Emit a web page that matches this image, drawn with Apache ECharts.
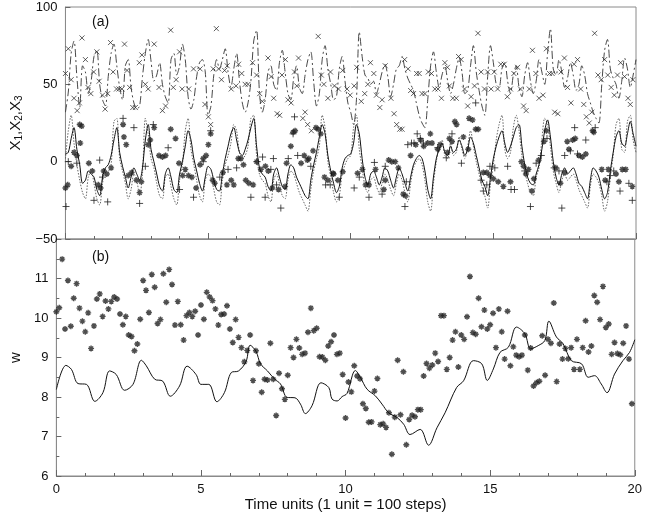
<!DOCTYPE html>
<html>
<head>
<meta charset="utf-8">
<script src="https://cdn.jsdelivr.net/npm/echarts@6/dist/echarts.min.js"></script>
<style>
html,body{margin:0;padding:0;background:#fff;}
#chart{width:645px;height:518px;}
</style>
</head>
<body>
<div id="chart"></div>
<script>
// ---------- DATA ----------
const timeStep = 0.1; // model output every 0.1 time units, t = 0..20

// panel (a): model trajectories (solid X1, dotted X2, dash-dot X3)
const x1Model = [5,6,15,22,8,-2,-14,-12,-6,-8,
 -10,-18,-22,-10,-4,-2,4,14,22,6,
 -3,-10,-17,-10,-4,-8,-12,-4,14,24,
 8,0,-8,-16,-19,-8,-4,-10,-18,-20,
 -8,0,10,20,14,2,-6,-14,-19,-10,
 -3,-5,-12,-18,-19,-8,2,10,18,22,
 14,6,4,8,14,22,28,10,-4,-8,
 -10,-16,-19,-8,-4,-10,-16,-18,-8,-2,
 -4,-10,-14,-18,-22,-24,-12,-2,6,16,
 24,18,4,-6,-14,-20,-16,-4,2,4,
 5,12,24,18,2,-10,-15,-8,-6,-10,
 -15,-10,-4,-6,-12,-17,-10,-4,-8,-14,
 -19,-10,-2,2,4,2,-6,-18,-24,-10,
 2,8,12,6,4,10,6,8,14,10,
 4,8,16,12,4,-4,-12,-16,-22,-10,
 2,10,16,20,12,6,10,16,22,24,
 10,-2,-10,-14,-15,-8,-2,8,20,27,
 16,0,-10,-15,-8,-4,-8,-6,-4,-8,
 -14,-16,-20,-24,-12,-4,-6,-10,-18,-24,
 -20,-6,6,16,20,12,10,18,26,18,
 10];
const x2Model = [2,20,30,12,-2,-12,-20,-24,-10,-6,
 -14,-24,-28,-14,-6,-6,-2,26,28,2,
 -6,-14,-24,-18,-8,-12,-22,-8,28,18,
 2,-4,-14,-22,-24,-10,-8,-16,-24,-28,
 -12,-2,20,28,8,-2,-12,-22,-26,-12,
 -8,-10,-18,-26,-28,-12,-2,4,12,24,
 20,6,2,4,10,28,30,4,-8,-12,
 -14,-22,-26,-12,-8,-14,-22,-24,-12,-6,
 -8,-14,-20,-24,-28,-32,-18,-6,2,10,
 30,22,0,-10,-20,-26,-22,-8,-2,2,
 4,22,30,8,-4,-16,-20,-12,-10,-16,
 -20,-14,-8,-12,-18,-22,-14,-8,-12,-20,
 -26,-14,-4,0,2,-2,-12,-26,-32,-14,
 0,10,14,4,2,12,4,6,16,8,
 2,10,20,10,0,-8,-16,-22,-30,-14,
 -2,14,24,30,8,2,6,22,30,20,
 4,-6,-14,-20,-22,-10,-4,14,28,24,
 10,-6,-14,-20,-12,-8,-12,-10,-8,-12,
 -18,-22,-26,-30,-16,-8,-10,-14,-22,-32,
 -26,-10,4,24,28,8,6,26,30,14,
 6];
const x3Model = [32,45,70,78,55,35,62,58,44,52,
 68,72,50,40,36,55,70,76,62,48,
 40,62,66,48,38,34,36,55,70,79,
 65,52,56,64,50,42,38,66,70,56,
 62,76,66,42,34,40,55,64,66,58,
 30,36,56,66,60,66,73,58,48,60,
 70,52,38,32,38,52,78,85,45,32,
 40,58,62,50,46,64,72,58,44,40,
 54,62,48,44,56,66,71,52,36,44,
 66,75,60,50,40,42,60,68,52,38,
 32,24,40,84,68,56,54,50,52,44,
 50,58,63,55,42,50,60,62,68,60,
 54,50,46,38,30,25,22,40,62,71,
 58,48,56,62,52,44,50,60,67,58,
 44,46,62,75,58,46,36,30,55,75,
 64,50,48,60,64,52,44,56,62,48,
 42,56,64,52,44,52,66,58,50,70,
 86,60,56,66,58,48,54,64,56,46,
 50,62,56,44,38,32,28,25,50,72,
 79,60,54,50,41,52,67,60,48,56,
 66];

// panel (a): observations [time, value]
const x1Obs = [[0,-17],[0.08,-15],[0.2,-3],[0.3,6],[0.4,4],[0.5,24],[0.57,23],[0.52,12],[0.82,-1],[0.94,-6],[1.15,-15],[1.23,-17],[1.34,-6],[1.45,-8],[1.6,-4],
 [2.02,24],[2.05,16],[2.13,11],[2.2,-9],[2.32,-7],[2.49,-12],[2.6,-20],[2.66,-13],[2.9,11],[2.97,14],[3.11,22],[3.28,4],[3.4,3],[3.51,4],[3.69,21],[3.86,15],[3.98,-1],
 [4.11,-9],[4.2,-5],[4.31,-9],[4.43,-10],[4.58,-17],[4.72,-2],[4.83,2],[4.93,4],[5.01,11],[5.09,18],[5.16,-12],[5.23,-14],[5.52,-7],[5.66,-15],[5.81,-12],[5.9,-15],
 [6.06,2],[6.15,2],[6.24,-2],[6.32,-12],[6.43,-14],[6.58,-15],[6.7,0],[6.85,-5],[7.01,-3],[7.11,-6],[7.25,-17],[7.47,-18],[7.7,-16],[7.75,-1],[7.9,10],[7.98,19],[8.05,20],
 [8.26,-1],[8.37,4],[8.48,1],[8.53,2],[8.68,7],[8.78,22],[8.86,21],[8.95,18],[9.08,-10],[9.2,-12],[9.38,-7.5],[9.4,-8],[9.55,-12],[9.72,-6.5],
 [10.24,-7.5],[10.41,-5],[10.52,-15],[10.64,-15],[10.87,-5],[11.16,-18],[11.21,-12],[11.33,1],[11.44,0],[11.56,0],[11.67,-4],[11.84,-21],[11.92,-22],
 [12.1,4],[12.28,11],[12.45,14],[12.56,10],[12.7,12],[12.79,18],[12.85,12],[13.05,8],[13.13,11],[13.39,6],[13.46,15],[13.55,13],[13.65,26],[13.71,24],[13.95,16],
 [14.12,8],[14.15,28],[14.27,27],[14.38,21],[14.47,21],[14.65,-7],[14.77,-7],[14.88,-9],[15.0,-11],[15.17,-13],[15.35,-16],[15.6,-13],[15.98,0],[16.06,-3],[16.14,-8],
 [16.23,-5],[16.35,-19],[16.42,-11],[16.59,1],[16.77,13],[16.86,20],[17.19,-4],[17.35,-14],[17.5,-7],[17.59,13],[17.65,8],[17.78,14],[17.87,15],[18.0,4],[18.12,3],
 [18.24,5],[18.48,20],[18.52,19],[18.8,-5],[18.92,-12],[19.03,-5],[19.3,-8],[19.4,-13],[19.52,-5],[19.64,-5],[19.87,-16]];
const x2Obs = [[0.02,-29],[0.1,0],[0.4,-1],[1.0,-25],[1.2,1],[1.3,-10],[1.48,-26],[2.02,28],[2.4,22],[2.6,-27],[2.8,-3],[3.08,24],[3.6,9],[4.0,-18],[4.49,-23],
 [4.83,0],[5.09,20],[5.41,-10],[5.7,-5],[6.0,-4],[6.5,-23],[6.72,0],[6.91,3],[7.0,-23],[7.2,-5],[7.29,2],[7.4,-15],[7.55,-30],[7.81,2],[7.98,18],[8.03,29],[8.14,4],
 [8.6,-3],[9.12,-15],[9.28,-15],[9.6,-23],[10.12,-17],[10.3,-10],[10.64,-23],[10.83,-0.5],[11.1,-21],[11.21,-3],[11.9,-29],[11.95,-13],[12.0,11],[12.13,12],[12.22,12],
 [12.33,18],[12.44,15],[12.55,12],[13.05,9],[13.35,2.5],[13.55,18],[13.88,-1],[14.38,38],[14.57,-12],[14.65,-19],[14.77,-15],[14.88,-3],[15.05,-4],[15.5,-3],[15.62,-18],
 [15.74,-18],[16.1,-6],[16.3,-29],[16.5,-1],[16.68,4],[16.88,15],[17.13,-4],[17.3,-6],[17.4,-30],[17.5,4],[17.7,7],[17.85,22],[17.95,5],[18.24,14],[18.57,22],
 [18.98,-13],[19.1,-9],[19.22,-6],[19.44,-19],[19.75,-14],[19.87,-25]];
const x3Obs = [[0,57],[0.1,73],[0.2,53],[0.3,41],[0.41,33],[0.49,38],[0.58,80],[0.7,66],[0.79,48],[0.89,44],[0.99,58],[1.1,71],[1.18,52],[1.3,43],[1.39,34],[1.48,44],
 [1.58,77],[1.67,58],[1.79,47],[1.88,47],[1.98,47],[2.07,76],[2.16,59],[2.25,48],[2.36,35],[2.45,35],[2.59,64],[2.68,69],[2.8,50],[2.9,47],[3.11,76],[3.28,48],[3.4,33],
 [3.51,36],[3.69,85],[3.78,48],[3.88,53],[4.0,71],[4.09,47],[4.32,47],[4.49,60],[4.72,60],[4.89,37],[5.01,29],[5.09,24],[5.18,60],[5.29,86],[5.37,60],[5.47,53],
 [5.58,59],[5.67,62],[5.81,47],[5.98,49],[6.07,63],[6.18,57],[6.3,50],[6.4,50],[6.56,64],[6.7,56],[6.81,44],[6.9,39],[7.1,67],[7.21,55],[7.3,41],[7.42,31],[7.51,30],
 [7.59,56],[7.71,66],[7.8,40],[7.91,38],[8.03,58],[8.11,49],[8.17,67],[8.32,28],[8.4,32],[8.49,24],[8.62,20],[8.86,81],[8.97,56],[9.06,50],[9.2,41],[9.29,58],
 [9.43,49],[9.57,47],[9.72,59],[9.87,47],[9.98,43],[10.12,49],[10.21,61],[10.37,39],[10.49,44],[10.6,50],[10.69,64],[10.81,57],[10.9,43],[11.02,35],[11.1,40],
 [11.21,62],[11.41,41],[11.52,31],[11.61,24],[11.72,21],[11.8,21],[11.89,66],[12.01,60],[12.1,46],[12.2,44],[12.31,57],[12.4,57],[12.5,44],[12.6,44],[12.72,58],
 [12.83,57],[12.95,47],[13.06,47],[13.18,41],[13.3,64],[13.39,61],[13.46,49],[13.58,41],[13.7,41],[13.78,68],[13.87,66],[13.99,47],[14.1,36],[14.22,42],[14.34,49],
 [14.46,83],[14.57,58],[14.69,47],[14.8,58],[14.92,47],[15.03,58],[15.15,47],[15.26,63],[15.38,63],[15.49,42],[15.6,47],[15.72,57],[15.85,61],[15.95,47],[16.06,36],
 [16.15,33],[16.26,47],[16.37,72],[16.49,57],[16.6,41],[16.74,43],[16.86,73],[16.97,57],[17.06,57],[17.15,32],[17.26,31],[17.37,58],[17.49,67],[17.6,48],[17.72,38],
 [17.83,63],[17.95,66],[18.06,47],[18.17,37],[18.26,29],[18.36,25],[18.45,32],[18.55,83],[18.67,56],[18.78,53],[18.9,66],[19.01,56],[19.13,48],[19.24,43],[19.35,56],
 [19.46,64],[19.6,55],[19.72,41],[19.8,37],[19.89,53]];

// panel (b): model w trajectory [time, w]
const wModel = [[0,8.19],[0.33,8.80],[0.52,8.70],[0.75,8.34],[1.04,8.32],[1.33,7.89],[1.61,8.11],[1.84,8.66],[2.07,8.57],[2.36,8.17],[2.65,8.32],[2.94,8.93],
 [3.11,8.79],[3.40,8.45],[3.68,8.40],[3.94,8.02],[4.26,8.28],[4.52,8.78],[4.83,8.57],[5.0,8.32],[5.27,8.32],[5.55,7.88],[5.81,8.11],[6.05,8.62],[6.3,8.66],
 [6.56,8.9],[6.70,9.31],[6.9,9.16],[7.06,8.84],[7.3,8.66],[7.55,8.45],[7.75,8.33],[7.98,7.99],[8.25,7.98],[8.44,7.82],[8.61,7.58],[8.84,7.78],[9.15,8.36],
 [9.42,8.24],[9.53,7.95],[9.71,7.90],[9.88,8.01],[10.05,8.09],[10.34,8.67],[10.51,8.50],[10.74,8.20],[11.03,8.03],[11.26,7.82],[11.49,7.60],[11.78,7.48],
 [12.01,7.31],[12.23,7.05],[12.58,7.18],[12.87,6.78],[13.16,7.22],[13.44,7.60],[13.84,8.24],[14.08,8.41],[14.42,8.92],[14.71,8.84],[14.9,8.42],[15.11,8.71],
 [15.34,9.13],[15.63,9.26],[15.91,9.77],[16.20,9.60],[16.40,9.22],[16.66,9.30],[16.89,9.43],[17.03,9.92],[17.29,9.52],[17.52,9.35],[17.81,8.92],[18.16,8.84],
 [18.39,8.50],[18.61,8.54],[18.84,8.33],[19.04,8.11],[19.30,8.58],[19.59,8.92],[19.82,9.13],[20.0,9.45]];

// panel (b): w observations every 0.1 time units, t = 0..19.9
const wObs = [10.16,10.26,11.49,9.72,10.95,9.79,10.50,10.87,10.25,9.92,
 9.65,10.13,9.23,9.80,10.48,10.61,10.04,10.43,10.23,10.42,
 10.53,10.48,10.10,9.83,10.04,9.57,9.53,9.17,9.34,9.97,
 10.95,10.70,10.14,11.10,10.78,9.86,9.96,11.12,10.40,11.23,
 10.85,9.82,10.42,9.83,9.44,10.06,10.14,10.04,10.17,9.57,
 10.33,9.97,10.65,10.53,10.44,10.23,9.82,10.09,10.10,10.31,
 9.72,9.38,9.96,9.51,9.25,8.89,9.18,9.57,8.42,9.17,
 8.84,8.12,8.45,8.43,9.36,8.45,7.53,8.60,8.21,7.94,
 8.55,9.25,9.00,9.46,9.24,9.08,9.11,9.64,10.25,9.68,
 9.74,9.02,9.01,8.93,9.29,9.40,9.57,9.08,9.11,8.57,
 7.47,8.38,8.13,8.79,8.53,8.46,7.83,7.71,7.36,7.37,
 8.15,8.47,7.30,7.32,7.23,7.60,6.55,7.49,8.93,7.55,
 8.64,6.79,7.43,7.54,7.50,7.68,7.68,8.53,8.85,8.73,
 8.81,9.11,8.90,10.06,10.06,8.70,9.00,9.44,9.65,8.76,
 9.57,9.46,10.03,11.05,9.63,9.59,10.50,9.78,10.20,9.72,
 9.83,10.12,9.25,10.23,9.65,8.96,10.17,8.79,9.27,9.06,
 9.02,9.06,9.57,8.68,9.24,8.28,8.36,8.40,9.55,8.55,
 9.46,9.36,10.38,8.39,9.34,8.96,9.23,8.97,9.25,8.70,
 9.46,8.70,9.25,9.93,9.14,9.29,10.57,10.40,9.96,10.80,
 9.76,9.85,9.08,9.38,9.10,9.07,9.36,9.80,8.96,7.83];

// axis ticks
const xTicks = [0,5,10,15,20];
const yTicksA = [-50,0,50,100];
const yTicksB = [6,7,8,9,10,11];

// ---------- BUILD ----------
const onGrid = arr => arr.map((v,i)=>[+(i*timeStep).toFixed(2), v]);

const SYM_X = 'path://M0,0L10,10M10,0L0,10';
const SYM_P = 'path://M5,0L5,10M0,5L10,5';
const SYM_S = 'path://M5,0L5,10M0,5L10,5M1.6,1.6L8.4,8.4M8.4,1.6L1.6,8.4';

const FONT = 'Liberation Sans, Arial, Helvetica, sans-serif';
const minus = v => String(v).replace('-', '\u2212');

const chart = echarts.init(document.getElementById('chart'), null, {renderer:'canvas'});

const baseX = (gi, showLabels) => ({
  gridIndex: gi, type:'value', min:0, max:20, interval:5,
  axisLine:{show:true, onZero:false, lineStyle:{color:'#8a8a8a', width:1}},
  axisTick:{show:true, inside:true, length:6, lineStyle:{color:'#666'}},
  minorTick:{show:true, splitNumber:5, length:3, lineStyle:{color:'#666'}},
  splitLine:{show:false},
  axisLabel:{show:showLabels, color:'#111', fontSize:13, fontFamily:FONT, margin:7,
    formatter: v => xTicks.includes(v) ? String(v) : ''}
});

chart.setOption({
  animation:false,
  backgroundColor:'#fff',
  grid:[
    {left:56, right:9, top:7, height:232, show:true, borderColor:'#8a8a8a', borderWidth:1},
    {left:56, right:9, top:239, height:237, show:true, borderColor:'#8a8a8a', borderWidth:1}
  ],
  xAxis:[
    baseX(0,false),
    Object.assign(baseX(1,true), {name:'Time units (1 unit = 100 steps)', nameLocation:'middle', nameGap:19,
      nameTextStyle:{color:'#111', fontSize:15, fontFamily:FONT}})
  ],
  yAxis:[
    {gridIndex:0, type:'value', min:-50, max:100, interval:50,
     axisLine:{show:true, onZero:false, lineStyle:{color:'#8a8a8a'}},
     axisTick:{show:true, inside:true, length:5, lineStyle:{color:'#666'}},
     splitLine:{show:false},
     axisLabel:{color:'#111', fontSize:13, fontFamily:FONT, margin:8,
       formatter: v => yTicksA.includes(v) ? minus(v) : ''},
     name:'X{s|1},X{s|2},X{s|3}', nameLocation:'middle', nameGap:34,
     nameTextStyle:{color:'#111', fontSize:15, fontFamily:FONT,
       rich:{s:{fontSize:10, fontFamily:FONT, color:'#111', padding:[8,0,0,0]}}}},
    {gridIndex:1, type:'value', min:6, max:12, interval:1,
     axisLine:{show:true, onZero:false, lineStyle:{color:'#8a8a8a'}},
     axisTick:{show:true, inside:true, length:5, lineStyle:{color:'#666'}},
     minorTick:{show:true, splitNumber:2, length:3, lineStyle:{color:'#666'}},
     splitLine:{show:false},
     axisLabel:{color:'#111', fontSize:13, fontFamily:FONT, margin:8,
       formatter: v => yTicksB.includes(v) ? String(v) : ''},
     name:'w', nameLocation:'middle', nameGap:27,
     nameTextStyle:{color:'#111', fontSize:15, fontFamily:FONT}}
  ],
  graphic:[
    {type:'text', left:92, top:15, style:{text:'(a)', font:'14px '+FONT, fill:'#111'}},
    {type:'text', left:92, top:250, style:{text:'(b)', font:'14px '+FONT, fill:'#111'}}
  ],
  series:[
    {type:'line', xAxisIndex:0, yAxisIndex:0, data:onGrid(x3Model), showSymbol:false, smooth:0.3,
     lineStyle:{color:'#333', width:0.9, type:[8,3,2,3]}},
    {type:'line', xAxisIndex:0, yAxisIndex:0, data:onGrid(x2Model), showSymbol:false, smooth:0.3,
     lineStyle:{color:'#555', width:0.9, type:[1.5,1.5]}},
    {type:'line', xAxisIndex:0, yAxisIndex:0, data:onGrid(x1Model), showSymbol:false, smooth:0.3,
     lineStyle:{color:'#111', width:1}},
    {type:'scatter', xAxisIndex:0, yAxisIndex:0, data:x3Obs, symbol:SYM_X, symbolSize:5,
     itemStyle:{color:'none', borderColor:'#222', borderWidth:0.9}},
    {type:'scatter', xAxisIndex:0, yAxisIndex:0, data:x2Obs, symbol:SYM_P, symbolSize:7,
     itemStyle:{color:'none', borderColor:'#222', borderWidth:1}},
    {type:'scatter', xAxisIndex:0, yAxisIndex:0, data:x1Obs, symbol:SYM_S, symbolSize:6,
     itemStyle:{color:'#222', borderColor:'#222', borderWidth:1.4}},
    {type:'line', xAxisIndex:1, yAxisIndex:1, data:wModel, showSymbol:false, smooth:0.35,
     lineStyle:{color:'#111', width:1}},
    {type:'scatter', xAxisIndex:1, yAxisIndex:1, data:onGrid(wObs), symbol:SYM_S, symbolSize:6,
     itemStyle:{color:'#222', borderColor:'#222', borderWidth:1.4}}
  ]
});
</script>
</body>
</html>
